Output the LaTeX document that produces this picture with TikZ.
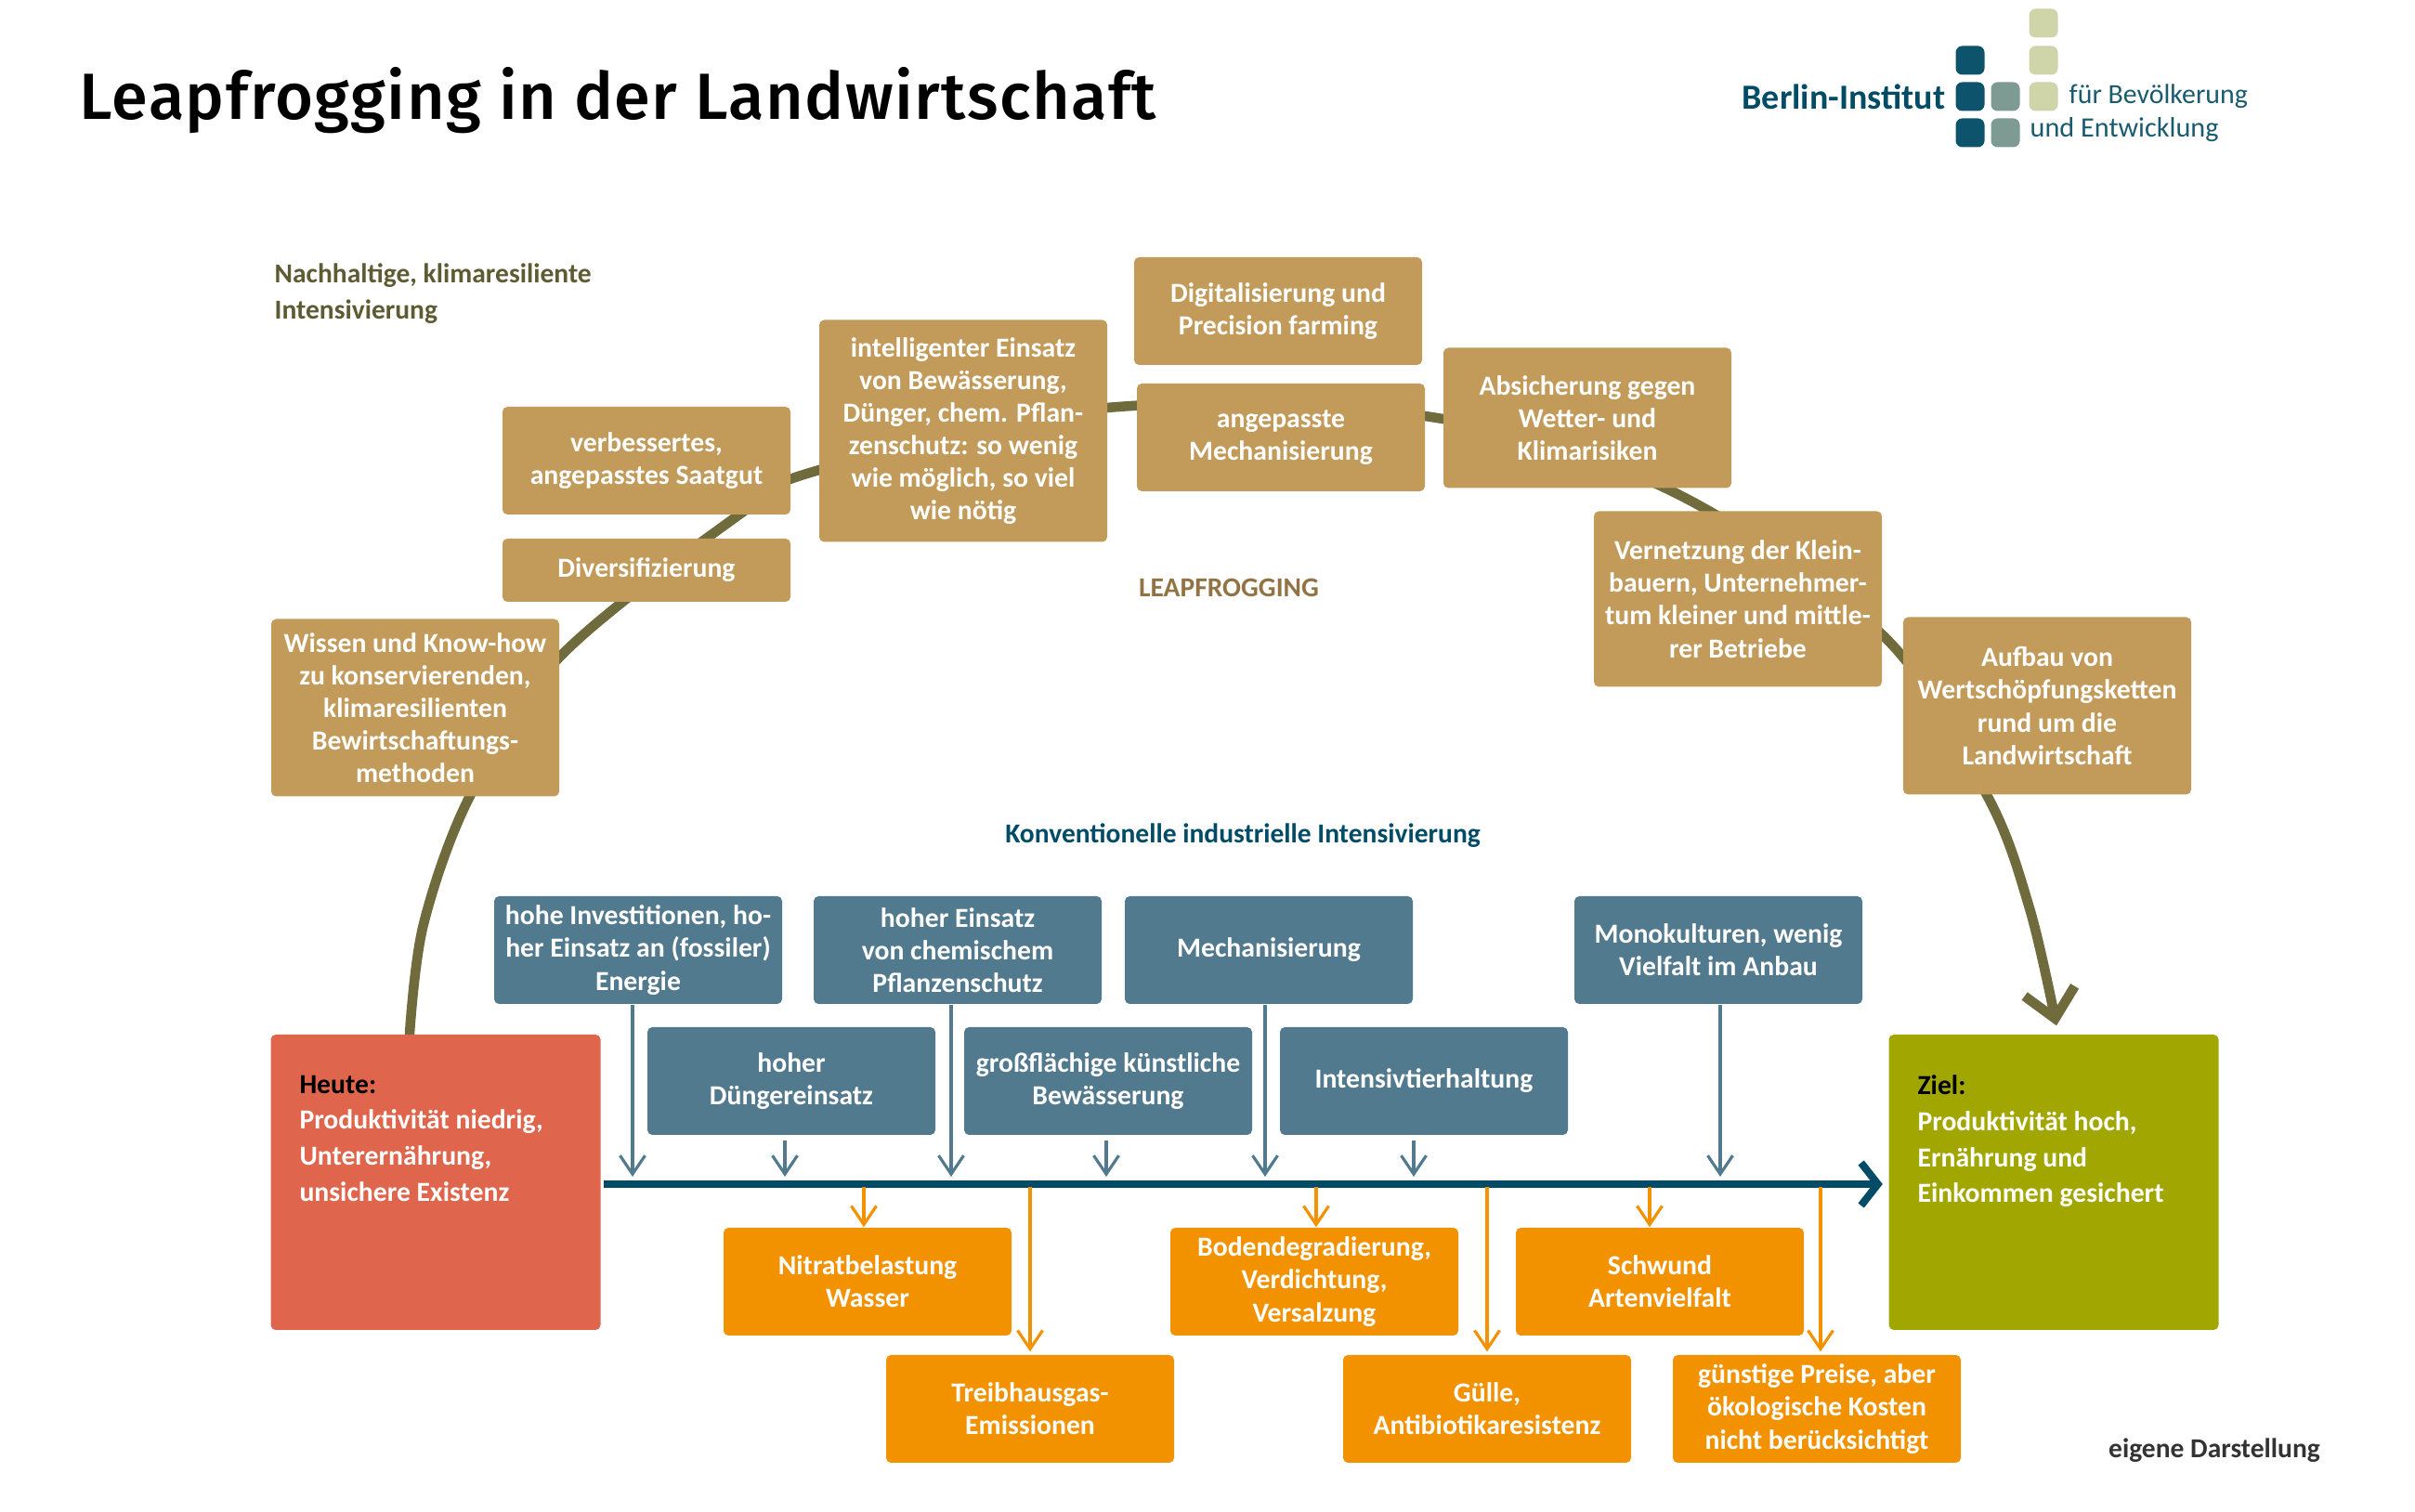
\documentclass[tikz,border=0pt]{standalone}
\usepackage{fontspec}
\setmainfont{Carlito}
\newfontfamily\titlefont[BoldFont={Fira Sans Medium},LetterSpace=2]{Fira Sans}
\usepackage{tikz}
\usepackage{xcolor}
\usetikzlibrary{arrows.meta, backgrounds, positioning}
\definecolor{leapTan}{HTML}{C29B5B}
\definecolor{convBlue}{HTML}{527A8E}
\definecolor{costOrange}{HTML}{F39200}
\definecolor{todayRed}{HTML}{DF654C}
\definecolor{goalGreen}{HTML}{A1A700}
\definecolor{leapLine}{HTML}{6F6B3C}
\definecolor{axisBlue}{HTML}{004B66}
\definecolor{logoMid}{HTML}{7D9A93}
\definecolor{logoLight}{HTML}{CFD5A8}

\begin{document}
\begin{tikzpicture} [
                box/.style={rectangle, rounded corners=1.5pt, minimum width=3.1cm, minimum height=1.16cm, inner sep=1pt, align=center, text=white, font=\fontsize{8.45}{10}\selectfont\bfseries},
                tanBox/.style={box, fill=leapTan},
                blueBox/.style={box, fill=convBlue},
                orangeBox/.style={box, fill=costOrange},
                bigBox/.style={box, minimum width=3.55cm, minimum height=3.18cm},
                bigText/.style={align=left, anchor=north west, inner sep=0pt, text=white, font=\fontsize{8.45}{11}\selectfont\bfseries},
                caption/.style={align=left, anchor=west, inner sep=0pt, font=\fontsize{8.4}{11.2}\selectfont\bfseries},
                logoDot/.style={rectangle, rounded corners=2pt, minimum size=0.31cm, inner sep=0pt},
                blueArrow/.style={-{Straight Barb[length=0.2cm,width=0.27cm]}, line width=0.9pt, draw=convBlue},
                orangeArrow/.style={-{Straight Barb[length=0.2cm,width=0.27cm]}, line width=0.9pt, draw=costOrange},
                axisArrow/.style={-{Straight Barb[length=0.18cm,width=0.46cm]}, line width=2.3pt, draw=axisBlue},
                leapArrow/.style={-{Straight Barb[length=0.3cm,width=0.55cm]}, line width=3pt, line cap=round, draw=leapLine}
            ]
            \useasboundingbox (0,0) rectangle (26,16.28);

            % Title
            \node[anchor=west, inner sep=0pt, font=\titlefont\fontsize{20}{23}\selectfont\bfseries] (title) at (0.85,15.2) {Leapfrogging in der Landwirtschaft};

            % Logo
            \begin{scope}
                \node[logoDot, fill=axisBlue!90!logoMid] (dotA) at (21.21,15.63) {};
                \node[logoDot, fill=axisBlue!90!logoMid] (dotB) at (21.21,15.24) {};
                \node[logoDot, fill=axisBlue!90!logoMid] (dotC) at (21.21,14.85) {};
                \node[logoDot, fill=logoMid] (dotD) at (21.59,15.24) {};
                \node[logoDot, fill=logoMid] (dotE) at (21.59,14.85) {};
                \node[logoDot, fill=logoLight] (dotF) at (22.00,16.03) {};
                \node[logoDot, fill=logoLight] (dotG) at (22.00,15.63) {};
                \node[logoDot, fill=logoLight] (dotH) at (22.00,15.24) {};
                \node[inner sep=0pt, anchor=east, text=axisBlue, font=\fontsize{10.8}{13}\selectfont\bfseries] (logoName) at (20.95,15.24) {Berlin-Institut};
                \node[inner sep=0pt, anchor=west, text=axisBlue!80!logoMid, font=\fontsize{8.5}{11}\selectfont] (logoTop) at (22.27,15.24) {für Bevölkerung};
                \node[inner sep=0pt, anchor=west, text=axisBlue!80!logoMid, font=\fontsize{8.6}{11}\selectfont] (logoBottom) at (21.85,14.88) {und Entwicklung};
            \end{scope}

            % Captions
            \node[caption, text=leapLine!85!black] (sustainLabel) at (2.95,13.12) {Nachhaltige, klimaresiliente\\Intensivierung};
            \node[caption, anchor=center, text=leapTan!75!black] (leapLabel) at (13.23,9.95) {LEAPFROGGING};
            \node[caption, anchor=center, text=axisBlue] (convLabel) at (13.38,7.28) {Konventionelle industrielle Intensivierung};
            \node[caption, anchor=center, text=black!80] (sourceLabel) at (23.84,0.66) {eigene Darstellung};

            % Leapfrogging Group
            \begin{scope}
                \node[tanBox, minimum height=1.91cm] (wissen) at (4.47,8.66) {Wissen und Know-how\\zu konservierenden,\\klimaresilienten\\Bewirtschaftungs-\\methoden};
                \node[tanBox, minimum height=0.68cm] (divers) at (6.96,10.14) {Diversifizierung};
                \node[tanBox] (saatgut) at (6.96,11.32) {verbessertes,\\angepasstes Saatgut};
                \node[tanBox, minimum height=2.39cm] (einsatz) at (10.37,11.64) {intelligenter Einsatz\\von Bewässerung,\\Dünger, chem. Pflan-\\zenschutz: so wenig\\wie möglich, so viel\\wie nötig};
                \node[tanBox] (digital) at (13.76,12.93) {Digitalisierung und\\Precision farming};
                \node[tanBox] (technik) at (13.79,11.57) {angepasste\\Mechanisierung};
                \node[tanBox, minimum height=1.51cm] (absicherung) at (17.09,11.78) {Absicherung gegen\\Wetter- und\\Klimarisiken};
                \node[tanBox, minimum height=1.89cm] (vernetzung) at (18.71,9.83) {Vernetzung der Klein-\\bauern, Unternehmer-\\tum kleiner und mittle-\\rer Betriebe};
                \node[tanBox, minimum height=1.91cm] (aufbau) at (22.04,8.68) {Aufbau von\\Wertschöpfungsketten\\rund um die\\Landwirtschaft};
            \end{scope}

            % Conventional Group
            \begin{scope}
                \node[blueBox] (invest) at (6.87,6.05) {hohe Investitionen, ho-\\her Einsatz an (fossiler)\\Energie};
                \node[blueBox] (chemie) at (10.31,6.05) {hoher Einsatz\\von chemischem\\Pflanzenschutz};
                \node[blueBox] (maschinen) at (13.66,6.05) {Mechanisierung};
                \node[blueBox] (mono) at (18.50,6.05) {Monokulturen, wenig\\Vielfalt im Anbau};
                \node[blueBox] (duenger) at (8.52,4.64) {hoher\\Düngereinsatz};
                \node[blueBox] (wasser) at (11.93,4.64) {großflächige künstliche\\Bewässerung};
                \node[blueBox] (tiere) at (15.33,4.64) {Intensivtierhaltung};
            \end{scope}

            % Start and Goal
            \begin{scope}
                \node[bigBox, fill=todayRed] (heute) at (4.69,3.55) {};
                \node[bigText] (heuteText) at ([xshift=0.31cm,yshift=-0.44cm]heute.north west) {\textcolor{black}{Heute:}\\Produktivität niedrig,\\Unterernährung,\\unsichere Existenz};
                \node[bigBox, fill=goalGreen] (ziel) at (22.11,3.55) {};
                \node[bigText] (zielText) at ([xshift=0.31cm,yshift=-0.44cm]ziel.north west) {\textcolor{black}{Ziel:}\\Produktivität hoch,\\Ernährung und\\Einkommen gesichert};
            \end{scope}

            % Cost Group
            \begin{scope}
                \node[orangeBox] (nitrat) at (9.34,2.48) {Nitratbelastung\\Wasser};
                \node[orangeBox] (boden) at (14.15,2.48) {Bodendegradierung,\\Verdichtung,\\Versalzung};
                \node[orangeBox] (schwund) at (17.87,2.48) {Schwund\\Artenvielfalt};
                \node[orangeBox] (treibhaus) at (11.09,1.11) {Treibhausgas-\\Emissionen};
                \node[orangeBox] (guelle) at (16.01,1.11) {Gülle,\\Antibiotikaresistenz};
                \node[orangeBox] (preise) at (19.56,1.11) {günstige Preise, aber\\ökologische Kosten\\nicht berücksichtigt};
            \end{scope}

            % Connections
            \begin{scope}[on background layer]
                \draw[leapArrow] plot[smooth, tension=0.55] coordinates {([xshift=-0.28cm]heute.north) (4.56,6.33) (5.06,7.71) (6.02,9.20) (7.96,10.74) (8.82,11.22) (11.92,11.89) (15.34,11.80) (17.94,11.02) (20.26,9.45) (21.39,7.72) (21.85,6.50) ([xshift=0.03cm,yshift=0.09cm]ziel.north)};
            \end{scope}

            \draw[axisArrow] ([xshift=0.03cm,yshift=-0.02cm]heute.east) -- ([xshift=-0.06cm,yshift=-0.02cm]ziel.west);
            \coordinate (axisTop) at (0,3.61);
            \coordinate (axisBottom) at (0,3.5);

            \draw[blueArrow] ([xshift=-0.06cm]invest.south) -- ([xshift=-0.06cm]invest.south |- axisTop);
            \draw[blueArrow] ([xshift=-0.07cm]chemie.south) -- ([xshift=-0.07cm]chemie.south |- axisTop);
            \draw[blueArrow] ([xshift=-0.04cm]maschinen.south) -- ([xshift=-0.04cm]maschinen.south |- axisTop);
            \draw[blueArrow] ([xshift=0.02cm]mono.south) -- ([xshift=0.02cm]mono.south |- axisTop);
            \draw[blueArrow] ([xshift=-0.07cm,yshift=-0.05cm]duenger.south) -- ([xshift=-0.07cm]duenger.south |- axisTop);
            \draw[blueArrow] ([xshift=-0.02cm,yshift=-0.05cm]wasser.south) -- ([xshift=-0.02cm]wasser.south |- axisTop);
            \draw[blueArrow] ([xshift=-0.11cm,yshift=-0.05cm]tiere.south) -- ([xshift=-0.11cm]tiere.south |- axisTop);

            \draw[orangeArrow] ([xshift=-0.04cm]nitrat.north |- axisBottom) -- ([xshift=-0.04cm]nitrat.north);
            \draw[orangeArrow] (treibhaus.north |- axisBottom) -- ([yshift=0.03cm]treibhaus.north);
            \draw[orangeArrow] ([xshift=0.02cm]boden.north |- axisBottom) -- ([xshift=0.02cm]boden.north);
            \draw[orangeArrow] (guelle.north |- axisBottom) -- ([yshift=0.03cm]guelle.north);
            \draw[orangeArrow] ([xshift=-0.11cm]schwund.north |- axisBottom) -- ([xshift=-0.11cm]schwund.north);
            \draw[orangeArrow] ([xshift=0.04cm]preise.north |- axisBottom) -- ([xshift=0.04cm,yshift=0.03cm]preise.north);
        \end{tikzpicture}
\end{document}
